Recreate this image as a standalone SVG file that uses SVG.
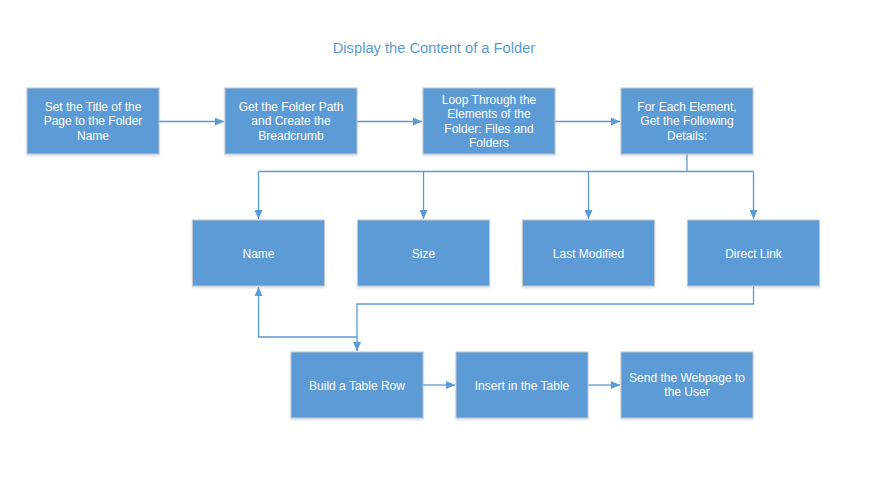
<svg xmlns="http://www.w3.org/2000/svg" width="883" height="500" viewBox="0 0 883 500">
<defs>
<style>
.box{fill:#5b9bd5;stroke:#c3c7cc;stroke-width:1;filter:url(#sh)}
.t{font-family:"Liberation Sans",Arial,sans-serif;font-size:12px;fill:#fff;text-anchor:middle}
.title{font-family:"Liberation Sans",Arial,sans-serif;font-size:14.7px;fill:#5b9bd5;text-anchor:middle}
.c{fill:none;stroke:#5b9bd5;stroke-width:1.3;marker-end:url(#ah)}
.cn{fill:none;stroke:#5b9bd5;stroke-width:1.3}
</style>
<marker id="ah" markerWidth="10" markerHeight="8" refX="9" refY="4" orient="auto" markerUnits="userSpaceOnUse">
<path d="M0,0 L9,4 L0,8 Z" fill="#5b9bd5"/>
</marker>
<filter id="sh" x="-10%" y="-10%" width="120%" height="130%">
<feDropShadow dx="0" dy="1.5" stdDeviation="1.2" flood-color="#8aa9c8" flood-opacity="0.35"/>
</filter>
</defs>
<rect width="883" height="500" fill="#fff"/>
<text class="title" x="434" y="53">Display the Content of a Folder</text>

<g id="connectors">
<path class="c" d="M159,121.5 H224"/>
<path class="c" d="M357,121.5 H422"/>
<path class="c" d="M555,121.5 H620"/>
<path class="cn" d="M687,154 V171.5 H258.5"/>
<path class="cn" d="M687,171.5 H753.5"/>
<path class="c" d="M258.5,171.5 V219"/>
<path class="c" d="M423.5,171.5 V219"/>
<path class="c" d="M588.5,171.5 V219"/>
<path class="c" d="M753.5,171.5 V219"/>
<path class="c" d="M753.5,286 V304 H357 V351"/>
<path class="c" d="M357,337 H258.5 V287"/>
<path class="c" d="M423,385 H455"/>
<path class="c" d="M588,385 H620"/>
</g>

<g id="n1"><rect class="box" x="27" y="88" width="132" height="66"/>
<text class="t" x="93" y="110.5">Set the Title of the</text>
<text class="t" x="93" y="125">Page to the Folder</text>
<text class="t" x="93" y="139.5">Name</text></g>

<g id="n2"><rect class="box" x="225" y="88" width="132" height="66"/>
<text class="t" x="291" y="110.5">Get the Folder Path</text>
<text class="t" x="291" y="125">and Create the</text>
<text class="t" x="291" y="139.5">Breadcrumb</text></g>

<g id="n3"><rect class="box" x="423" y="88" width="132" height="66"/>
<text class="t" x="489" y="103.5">Loop Through the</text>
<text class="t" x="489" y="118">Elements of the</text>
<text class="t" x="489" y="132.5">Folder: Files and</text>
<text class="t" x="489" y="147">Folders</text></g>

<g id="n4"><rect class="box" x="621" y="88" width="132" height="66"/>
<text class="t" x="687" y="110.5">For Each Element,</text>
<text class="t" x="687" y="125">Get the Following</text>
<text class="t" x="687" y="139.5">Details:</text></g>

<g id="n5"><rect class="box" x="192.5" y="220" width="132" height="66"/>
<text class="t" x="258.5" y="257.5">Name</text></g>

<g id="n6"><rect class="box" x="357.5" y="220" width="132" height="66"/>
<text class="t" x="423.5" y="257.5">Size</text></g>

<g id="n7"><rect class="box" x="522.5" y="220" width="132" height="66"/>
<text class="t" x="588.5" y="257.5">Last Modified</text></g>

<g id="n8"><rect class="box" x="687.5" y="220" width="132" height="66"/>
<text class="t" x="753.5" y="257.5">Direct Link</text></g>

<g id="n9"><rect class="box" x="291" y="352" width="132" height="66"/>
<text class="t" x="357" y="389.5">Build a Table Row</text></g>

<g id="n10"><rect class="box" x="456" y="352" width="132" height="66"/>
<text class="t" x="522" y="389.5">Insert in the Table</text></g>

<g id="n11"><rect class="box" x="621" y="352" width="132" height="66"/>
<text class="t" x="687" y="381.5">Send the Webpage to</text>
<text class="t" x="687" y="396">the User</text></g>
</svg>
